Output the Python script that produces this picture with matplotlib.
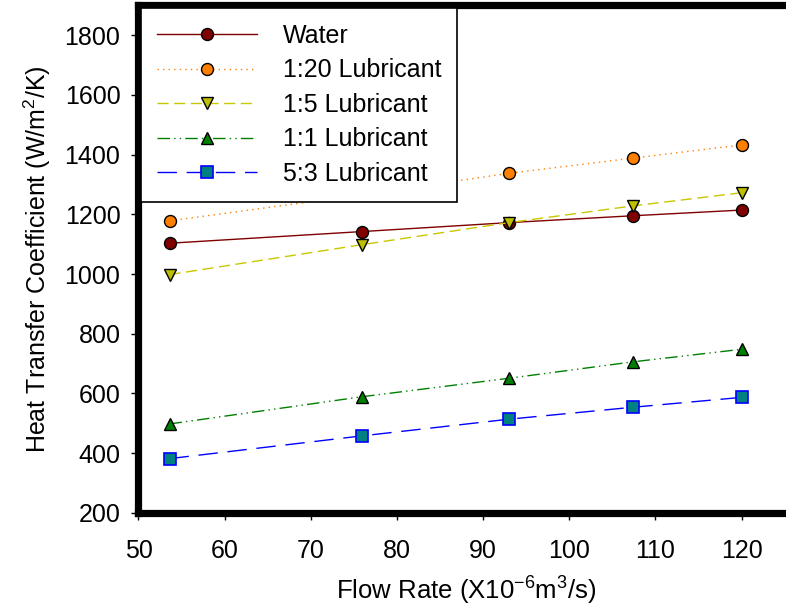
import matplotlib
matplotlib.use("Agg")
import matplotlib.pyplot as plt

plt.rcParams['font.family'] = ['Liberation Sans', 'DejaVu Sans']
plt.rcParams['mathtext.default'] = 'regular'

# Flow rate (x10^-6 m^3/s)
flow_rate = [53.6, 75.9, 93.0, 107.4, 120.0]

# Heat transfer coefficient (W/m^2/K)
water = [1103, 1142, 1172, 1195, 1214]
lub_1_20 = [1178, 1265, 1337, 1388, 1432]
lub_1_5 = [998, 1098, 1172, 1228, 1272]
lub_1_1 = [498, 589, 651, 706, 748]
lub_5_3 = [382, 458, 514, 554, 587]

series_labels = ["Water", "1:20 Lubricant", "1:5 Lubricant", "1:1 Lubricant", "5:3 Lubricant"]
x_ticks = [50, 60, 70, 80, 90, 100, 110, 120]
y_ticks = [200, 400, 600, 800, 1000, 1200, 1400, 1600, 1800]

FS = 18

fig = plt.figure(figsize=(7.86, 6.11), dpi=100)
ax = fig.add_axes([0.1762, 0.1604, 0.8330, 0.8312])

ms = 8.6
lw = 1.0
ax.plot(flow_rate, water, color='#800000', lw=lw, ls='-',
        marker='o', ms=ms, mfc='#800000', mec='black', mew=1.0, label=series_labels[0])
ax.plot(flow_rate, lub_1_20, color='#FF8000', lw=lw, ls=(0, (1, 3)),
        marker='o', ms=ms, mfc='#FF8000', mec='black', mew=1.0, label=series_labels[1])
ax.plot(flow_rate, lub_1_5, color='#C8C800', lw=lw, ls=(0, (8, 4)),
        marker='v', ms=ms + 0.6, mfc='#BFBF00', mec='black', mew=1.0, label=series_labels[2])
ax.plot(flow_rate, lub_1_1, color='#008000', lw=lw, ls=(0, (9, 3, 1, 3, 1, 3)),
        marker='^', ms=ms + 0.6, mfc='#008000', mec='black', mew=1.0, label=series_labels[3])
ax.plot(flow_rate, lub_5_3, color='#0000FF', lw=lw, ls=(0, (14, 7)),
        marker='s', ms=ms - 0.6, mfc='#008080', mec='#0000FF', mew=1.2, label=series_labels[4])

ax.set_xlim(50, 126)
ax.set_ylim(200, 1900)
ax.set_xticks(x_ticks)
ax.set_yticks(y_ticks)

for side in ['left', 'top', 'bottom']:
    ax.spines[side].set_linewidth(5.2)
    ax.spines[side].set_capstyle('projecting')
ax.spines['right'].set_visible(False)

ax.tick_params(axis='both', direction='out', length=5, width=1.0, labelsize=FS)
ax.tick_params(axis='y', pad=8)
ax.tick_params(axis='x', pad=14)

ax.set_xlabel('Flow Rate (X10$^{-6}$m$^{3}$/s)', fontsize=FS + 0.5, labelpad=8)
ax.set_ylabel('Heat Transfer Coefficient (W/m$^{2}$/K)', fontsize=FS, labelpad=8)

leg = ax.legend(loc='upper left', bbox_to_anchor=(0.0, 1.0), fontsize=FS,
                handlelength=4.0, handletextpad=1.04, labelspacing=0.42,
                borderpad=0.63, borderaxespad=0.12, fancybox=False, framealpha=1.0)
leg.get_frame().set_edgecolor('black')
leg.get_frame().set_linewidth(1.2)

fig.savefig('out.png', dpi=100)
